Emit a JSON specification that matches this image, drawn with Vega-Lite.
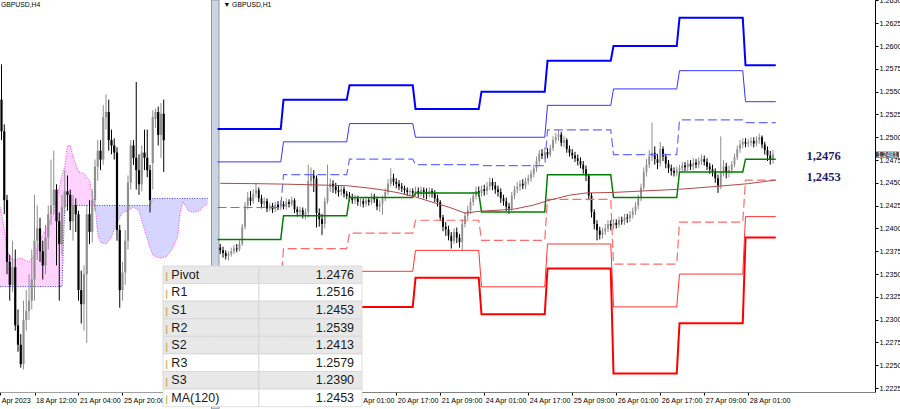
{
  "$schema": "https://vega.github.io/schema/vega-lite/v6.json",
  "width": 875,
  "height": 392,
  "autosize": "none",
  "padding": {"left": 0, "top": 0, "right": 25, "bottom": 17},
  "background": "#ffffff",
  "config": {"view": {"stroke": null}, "axis": {"grid": false}},
  "datasets": {
    "h4": [
      {"j":0,"o":1.2506,"h":1.2526,"l":1.2483,"c":1.2488},
      {"j":1,"o":1.2488,"h":1.2492,"l":1.2441,"c":1.2449},
      {"j":2,"o":1.2449,"h":1.2452,"l":1.2407,"c":1.2414},
      {"j":3,"o":1.2414,"h":1.2418,"l":1.2392,"c":1.2401},
      {"j":4,"o":1.2401,"h":1.2426,"l":1.2397,"c":1.2411},
      {"j":5,"o":1.2411,"h":1.2421,"l":1.2375,"c":1.2378},
      {"j":6,"o":1.2378,"h":1.2387,"l":1.2363,"c":1.2367},
      {"j":7,"o":1.2367,"h":1.2373,"l":1.2354,"c":1.2356},
      {"j":8,"o":1.2356,"h":1.2392,"l":1.2353,"c":1.2381},
      {"j":9,"o":1.2381,"h":1.2398,"l":1.2375,"c":1.2386},
      {"j":10,"o":1.2386,"h":1.2407,"l":1.2381,"c":1.2392},
      {"j":11,"o":1.2392,"h":1.2421,"l":1.2387,"c":1.2404},
      {"j":12,"o":1.2404,"h":1.2452,"l":1.2392,"c":1.2426},
      {"j":13,"o":1.2426,"h":1.2446,"l":1.2415,"c":1.2433},
      {"j":14,"o":1.2433,"h":1.2439,"l":1.2414,"c":1.2420},
      {"j":15,"o":1.2420,"h":1.2426,"l":1.2404,"c":1.2412},
      {"j":16,"o":1.2412,"h":1.2435,"l":1.2407,"c":1.2428},
      {"j":17,"o":1.2428,"h":1.2446,"l":1.2421,"c":1.2441},
      {"j":18,"o":1.2441,"h":1.2472,"l":1.2435,"c":1.2446},
      {"j":19,"o":1.2446,"h":1.2477,"l":1.2441,"c":1.2455},
      {"j":20,"o":1.2455,"h":1.2458,"l":1.2412,"c":1.2437},
      {"j":21,"o":1.2437,"h":1.2442,"l":1.2392,"c":1.2424},
      {"j":22,"o":1.2424,"h":1.2452,"l":1.2418,"c":1.2445},
      {"j":23,"o":1.2445,"h":1.2466,"l":1.2441,"c":1.2454},
      {"j":24,"o":1.2454,"h":1.2463,"l":1.2443,"c":1.2452},
      {"j":25,"o":1.2452,"h":1.2455,"l":1.2432,"c":1.2437},
      {"j":26,"o":1.2437,"h":1.2452,"l":1.2426,"c":1.2446},
      {"j":27,"o":1.2446,"h":1.2450,"l":1.2431,"c":1.2441},
      {"j":28,"o":1.2441,"h":1.2443,"l":1.2392,"c":1.2398},
      {"j":29,"o":1.2398,"h":1.2409,"l":1.2379,"c":1.2390},
      {"j":30,"o":1.2390,"h":1.2412,"l":1.2375,"c":1.2407},
      {"j":31,"o":1.2407,"h":1.2446,"l":1.2368,"c":1.2441},
      {"j":32,"o":1.2441,"h":1.2449,"l":1.2424,"c":1.2431},
      {"j":33,"o":1.2431,"h":1.2455,"l":1.2425,"c":1.2449},
      {"j":34,"o":1.2449,"h":1.2472,"l":1.2443,"c":1.2468},
      {"j":35,"o":1.2468,"h":1.2483,"l":1.2460,"c":1.2477},
      {"j":36,"o":1.2477,"h":1.2483,"l":1.2466,"c":1.2472},
      {"j":37,"o":1.2472,"h":1.2503,"l":1.2469,"c":1.2496},
      {"j":38,"o":1.2496,"h":1.2509,"l":1.2489,"c":1.2499},
      {"j":39,"o":1.2499,"h":1.2506,"l":1.2477,"c":1.2483},
      {"j":40,"o":1.2483,"h":1.2489,"l":1.2475,"c":1.2480},
      {"j":41,"o":1.2480,"h":1.2484,"l":1.2472,"c":1.2476},
      {"j":42,"o":1.2476,"h":1.2479,"l":1.2426,"c":1.2432},
      {"j":43,"o":1.2432,"h":1.2435,"l":1.2388,"c":1.2398},
      {"j":44,"o":1.2398,"h":1.2414,"l":1.2392,"c":1.2408},
      {"j":45,"o":1.2408,"h":1.2432,"l":1.2401,"c":1.2426},
      {"j":46,"o":1.2426,"h":1.2463,"l":1.2421,"c":1.2459},
      {"j":47,"o":1.2459,"h":1.2483,"l":1.2455,"c":1.2480},
      {"j":48,"o":1.2480,"h":1.2483,"l":1.2469,"c":1.2473},
      {"j":49,"o":1.2473,"h":1.2516,"l":1.2455,"c":1.2466},
      {"j":50,"o":1.2466,"h":1.2475,"l":1.2452,"c":1.2458},
      {"j":51,"o":1.2458,"h":1.2480,"l":1.2454,"c":1.2476},
      {"j":52,"o":1.2476,"h":1.2489,"l":1.2466,"c":1.2473},
      {"j":53,"o":1.2473,"h":1.2489,"l":1.2462,"c":1.2466},
      {"j":54,"o":1.2466,"h":1.2469,"l":1.2442,"c":1.2449},
      {"j":55,"o":1.2470,"h":1.2500,"l":1.2455,"c":1.2496},
      {"j":56,"o":1.2495,"h":1.2501,"l":1.2490,"c":1.2499},
      {"j":57,"o":1.2499,"h":1.2502,"l":1.2480,"c":1.2486},
      {"j":58,"o":1.2486,"h":1.2504,"l":1.2473,"c":1.2498},
      {"j":59,"o":1.2498,"h":1.2506,"l":1.2465,"c":1.2483}
    ],
    "cloud": [
      {"j":-0.5,"a":1.2445,"b":1.2400,"k":"up"},
      {"j":1,"a":1.2433,"b":1.2400,"k":"up"},
      {"j":2,"a":1.2420,"b":1.2400,"k":"up"},
      {"j":4,"a":1.2415,"b":1.2400,"k":"up"},
      {"j":7,"a":1.2416,"b":1.2400,"k":"up"},
      {"j":10,"a":1.2414,"b":1.2400,"k":"up"},
      {"j":12,"a":1.2418,"b":1.2400,"k":"up"},
      {"j":14,"a":1.2426,"b":1.2400,"k":"up"},
      {"j":16,"a":1.2432,"b":1.2400,"k":"up"},
      {"j":19,"a":1.2442,"b":1.2400,"k":"up"},
      {"j":22,"a":1.2463,"b":1.2400,"k":"up"},
      {"j":23,"a":1.2468,"b":1.2446,"k":"up"},
      {"j":24,"a":1.2480,"b":1.2446,"k":"up"},
      {"j":25,"a":1.2480,"b":1.2446,"k":"up"},
      {"j":26,"a":1.2474,"b":1.2446,"k":"up"},
      {"j":28,"a":1.2465,"b":1.2446,"k":"up"},
      {"j":30,"a":1.2464,"b":1.2446,"k":"up"},
      {"j":32,"a":1.2460,"b":1.2446,"k":"up"},
      {"j":33,"a":1.2451,"b":1.2446,"k":"up"},
      {"j":34,"a":1.2446,"b":1.2446,"k":"up"},
      {"j":34,"a":1.2446,"b":1.2446,"k":"down"},
      {"j":35,"a":1.2430,"b":1.2446,"k":"down"},
      {"j":36,"a":1.2425,"b":1.2446,"k":"down"},
      {"j":38,"a":1.2424,"b":1.2446,"k":"down"},
      {"j":40,"a":1.2428,"b":1.2446,"k":"down"},
      {"j":42,"a":1.2436,"b":1.2446,"k":"down"},
      {"j":44,"a":1.2442,"b":1.2446,"k":"down"},
      {"j":46,"a":1.2443,"b":1.2446,"k":"down"},
      {"j":48,"a":1.2445,"b":1.2446,"k":"down"},
      {"j":50,"a":1.2443,"b":1.2446,"k":"down"},
      {"j":52,"a":1.2432,"b":1.2446,"k":"down"},
      {"j":54,"a":1.2422,"b":1.2446,"k":"down"},
      {"j":55,"a":1.2418,"b":1.2450,"k":"down"},
      {"j":56,"a":1.2417,"b":1.2450,"k":"down"},
      {"j":58,"a":1.2416,"b":1.2450,"k":"down"},
      {"j":60,"a":1.2417,"b":1.2450,"k":"down"},
      {"j":62,"a":1.2421,"b":1.2450,"k":"down"},
      {"j":64,"a":1.2428,"b":1.2450,"k":"down"},
      {"j":65,"a":1.2442,"b":1.2450,"k":"down"},
      {"j":66,"a":1.2448,"b":1.2450,"k":"down"},
      {"j":68,"a":1.2443,"b":1.2450,"k":"down"},
      {"j":70,"a":1.2442,"b":1.2450,"k":"down"},
      {"j":72,"a":1.2443,"b":1.2450,"k":"down"},
      {"j":74,"a":1.2446,"b":1.2450,"k":"down"},
      {"j":75,"a":1.2447,"b":1.2450,"k":"down"}
    ],
    "h1": [
      {"i":1,"o":1.2379,"h":1.2383,"l":1.2372,"c":1.2376},
      {"i":2,"o":1.2376,"h":1.2380,"l":1.2368,"c":1.2373},
      {"i":3,"o":1.2373,"h":1.2376,"l":1.2366,"c":1.2370},
      {"i":4,"o":1.2370,"h":1.2375,"l":1.2365,"c":1.2372},
      {"i":5,"o":1.2372,"h":1.2379,"l":1.2369,"c":1.2375},
      {"i":6,"o":1.2375,"h":1.2382,"l":1.2372,"c":1.2378},
      {"i":7,"o":1.2378,"h":1.2383,"l":1.2374,"c":1.2377},
      {"i":8,"o":1.2377,"h":1.2387,"l":1.2375,"c":1.2383},
      {"i":9,"o":1.2383,"h":1.2405,"l":1.2381,"c":1.2402},
      {"i":10,"o":1.2402,"h":1.2429,"l":1.2399,"c":1.2425},
      {"i":11,"o":1.2425,"h":1.2440,"l":1.2421,"c":1.2434},
      {"i":12,"o":1.2434,"h":1.2441,"l":1.2425,"c":1.2430},
      {"i":13,"o":1.2430,"h":1.2443,"l":1.2427,"c":1.2438},
      {"i":14,"o":1.2438,"h":1.2450,"l":1.2434,"c":1.2442},
      {"i":15,"o":1.2442,"h":1.2445,"l":1.2429,"c":1.2433},
      {"i":16,"o":1.2433,"h":1.2437,"l":1.2422,"c":1.2427},
      {"i":17,"o":1.2427,"h":1.2434,"l":1.2423,"c":1.2430},
      {"i":18,"o":1.2430,"h":1.2433,"l":1.2418,"c":1.2422},
      {"i":19,"o":1.2422,"h":1.2428,"l":1.2419,"c":1.2425},
      {"i":20,"o":1.2425,"h":1.2428,"l":1.2417,"c":1.2421},
      {"i":21,"o":1.2421,"h":1.2429,"l":1.2418,"c":1.2426},
      {"i":22,"o":1.2426,"h":1.2430,"l":1.2420,"c":1.2423},
      {"i":23,"o":1.2423,"h":1.2431,"l":1.2420,"c":1.2427},
      {"i":24,"o":1.2427,"h":1.2430,"l":1.2421,"c":1.2424},
      {"i":25,"o":1.2424,"h":1.2433,"l":1.2421,"c":1.2429},
      {"i":26,"o":1.2429,"h":1.2432,"l":1.2423,"c":1.2427},
      {"i":27,"o":1.2427,"h":1.2435,"l":1.2424,"c":1.2431},
      {"i":28,"o":1.2431,"h":1.2433,"l":1.2417,"c":1.2421},
      {"i":29,"o":1.2421,"h":1.2424,"l":1.2413,"c":1.2418},
      {"i":30,"o":1.2418,"h":1.2424,"l":1.2414,"c":1.2420},
      {"i":31,"o":1.2420,"h":1.2423,"l":1.2411,"c":1.2415},
      {"i":32,"o":1.2415,"h":1.2422,"l":1.2410,"c":1.2418},
      {"i":33,"o":1.2418,"h":1.2470,"l":1.2412,"c":1.2452},
      {"i":34,"o":1.2452,"h":1.2467,"l":1.2446,"c":1.2458},
      {"i":35,"o":1.2458,"h":1.2464,"l":1.2440,"c":1.2455},
      {"i":36,"o":1.2455,"h":1.2458,"l":1.2401,"c":1.2417},
      {"i":37,"o":1.2417,"h":1.2422,"l":1.2402,"c":1.2410},
      {"i":38,"o":1.2410,"h":1.2416,"l":1.2393,"c":1.2405},
      {"i":39,"o":1.2405,"h":1.2434,"l":1.2400,"c":1.2430},
      {"i":40,"o":1.2430,"h":1.2470,"l":1.2427,"c":1.2445},
      {"i":41,"o":1.2445,"h":1.2455,"l":1.2440,"c":1.2449},
      {"i":42,"o":1.2449,"h":1.2453,"l":1.2439,"c":1.2446},
      {"i":43,"o":1.2446,"h":1.2450,"l":1.2438,"c":1.2442},
      {"i":44,"o":1.2442,"h":1.2447,"l":1.2435,"c":1.2440},
      {"i":45,"o":1.2440,"h":1.2447,"l":1.2436,"c":1.2443},
      {"i":46,"o":1.2443,"h":1.2446,"l":1.2434,"c":1.2438},
      {"i":47,"o":1.2438,"h":1.2441,"l":1.2432,"c":1.2436},
      {"i":48,"o":1.2436,"h":1.2440,"l":1.2430,"c":1.2434},
      {"i":49,"o":1.2434,"h":1.2438,"l":1.2427,"c":1.2431},
      {"i":50,"o":1.2431,"h":1.2437,"l":1.2427,"c":1.2433},
      {"i":51,"o":1.2433,"h":1.2436,"l":1.2425,"c":1.2429},
      {"i":52,"o":1.2429,"h":1.2434,"l":1.2424,"c":1.2430},
      {"i":53,"o":1.2430,"h":1.2433,"l":1.2423,"c":1.2427},
      {"i":54,"o":1.2427,"h":1.2435,"l":1.2424,"c":1.2431},
      {"i":55,"o":1.2431,"h":1.2434,"l":1.2425,"c":1.2429},
      {"i":56,"o":1.2429,"h":1.2439,"l":1.2426,"c":1.2435},
      {"i":57,"o":1.2435,"h":1.2438,"l":1.2428,"c":1.2432},
      {"i":58,"o":1.2432,"h":1.2435,"l":1.2420,"c":1.2424},
      {"i":59,"o":1.2424,"h":1.2431,"l":1.2418,"c":1.2427},
      {"i":60,"o":1.2427,"h":1.2436,"l":1.2415,"c":1.2433},
      {"i":61,"o":1.2433,"h":1.2444,"l":1.2430,"c":1.2440},
      {"i":62,"o":1.2440,"h":1.2454,"l":1.2437,"c":1.2449},
      {"i":63,"o":1.2449,"h":1.2466,"l":1.2446,"c":1.2455},
      {"i":64,"o":1.2455,"h":1.2460,"l":1.2447,"c":1.2451},
      {"i":65,"o":1.2451,"h":1.2455,"l":1.2444,"c":1.2449},
      {"i":66,"o":1.2449,"h":1.2453,"l":1.2442,"c":1.2446},
      {"i":67,"o":1.2446,"h":1.2450,"l":1.2440,"c":1.2444},
      {"i":68,"o":1.2444,"h":1.2447,"l":1.2438,"c":1.2442},
      {"i":69,"o":1.2442,"h":1.2445,"l":1.2436,"c":1.2440},
      {"i":70,"o":1.2440,"h":1.2444,"l":1.2436,"c":1.2441},
      {"i":71,"o":1.2441,"h":1.2444,"l":1.2435,"c":1.2439},
      {"i":72,"o":1.2439,"h":1.2446,"l":1.2435,"c":1.2441},
      {"i":73,"o":1.2441,"h":1.2445,"l":1.2434,"c":1.2439},
      {"i":74,"o":1.2439,"h":1.2446,"l":1.2435,"c":1.2442},
      {"i":75,"o":1.2442,"h":1.2445,"l":1.2433,"c":1.2440},
      {"i":76,"o":1.2440,"h":1.2444,"l":1.2432,"c":1.2438},
      {"i":77,"o":1.2438,"h":1.2445,"l":1.2434,"c":1.2441},
      {"i":78,"o":1.2441,"h":1.2444,"l":1.2434,"c":1.2439},
      {"i":79,"o":1.2439,"h":1.2442,"l":1.2429,"c":1.2433},
      {"i":80,"o":1.2433,"h":1.2437,"l":1.2424,"c":1.2429},
      {"i":81,"o":1.2429,"h":1.2431,"l":1.2408,"c":1.2412},
      {"i":82,"o":1.2412,"h":1.2415,"l":1.2397,"c":1.2402},
      {"i":83,"o":1.2402,"h":1.2407,"l":1.2392,"c":1.2399},
      {"i":84,"o":1.2399,"h":1.2403,"l":1.2387,"c":1.2392},
      {"i":85,"o":1.2392,"h":1.2396,"l":1.2378,"c":1.2386},
      {"i":86,"o":1.2386,"h":1.2400,"l":1.2383,"c":1.2396},
      {"i":87,"o":1.2396,"h":1.2401,"l":1.2384,"c":1.2390},
      {"i":88,"o":1.2390,"h":1.2394,"l":1.2379,"c":1.2385},
      {"i":89,"o":1.2385,"h":1.2410,"l":1.2375,"c":1.2405},
      {"i":90,"o":1.2405,"h":1.2418,"l":1.2401,"c":1.2414},
      {"i":91,"o":1.2414,"h":1.2425,"l":1.2410,"c":1.2420},
      {"i":92,"o":1.2420,"h":1.2433,"l":1.2416,"c":1.2429},
      {"i":93,"o":1.2429,"h":1.2440,"l":1.2425,"c":1.2436},
      {"i":94,"o":1.2436,"h":1.2446,"l":1.2432,"c":1.2441},
      {"i":95,"o":1.2441,"h":1.2446,"l":1.2435,"c":1.2439},
      {"i":96,"o":1.2439,"h":1.2447,"l":1.2435,"c":1.2443},
      {"i":97,"o":1.2443,"h":1.2448,"l":1.2436,"c":1.2441},
      {"i":98,"o":1.2441,"h":1.2451,"l":1.2437,"c":1.2446},
      {"i":99,"o":1.2446,"h":1.2456,"l":1.2442,"c":1.2451},
      {"i":100,"o":1.2451,"h":1.2455,"l":1.2442,"c":1.2447},
      {"i":101,"o":1.2447,"h":1.2451,"l":1.2438,"c":1.2443},
      {"i":102,"o":1.2443,"h":1.2447,"l":1.2435,"c":1.2440},
      {"i":103,"o":1.2440,"h":1.2444,"l":1.2428,"c":1.2433},
      {"i":104,"o":1.2433,"h":1.2437,"l":1.2425,"c":1.2430},
      {"i":105,"o":1.2430,"h":1.2434,"l":1.2419,"c":1.2424},
      {"i":106,"o":1.2424,"h":1.2428,"l":1.2416,"c":1.2422},
      {"i":107,"o":1.2422,"h":1.2440,"l":1.2419,"c":1.2436},
      {"i":108,"o":1.2436,"h":1.2447,"l":1.2432,"c":1.2443},
      {"i":109,"o":1.2443,"h":1.2451,"l":1.2439,"c":1.2446},
      {"i":110,"o":1.2446,"h":1.2453,"l":1.2441,"c":1.2449},
      {"i":111,"o":1.2449,"h":1.2454,"l":1.2443,"c":1.2447},
      {"i":112,"o":1.2447,"h":1.2456,"l":1.2443,"c":1.2452},
      {"i":113,"o":1.2452,"h":1.2459,"l":1.2448,"c":1.2455},
      {"i":114,"o":1.2455,"h":1.2464,"l":1.2451,"c":1.2460},
      {"i":115,"o":1.2460,"h":1.2470,"l":1.2456,"c":1.2466},
      {"i":116,"o":1.2466,"h":1.2479,"l":1.2462,"c":1.2474},
      {"i":117,"o":1.2474,"h":1.2486,"l":1.2470,"c":1.2482},
      {"i":118,"o":1.2482,"h":1.2487,"l":1.2476,"c":1.2480},
      {"i":119,"o":1.2480,"h":1.2489,"l":1.2476,"c":1.2484},
      {"i":120,"o":1.2484,"h":1.2488,"l":1.2477,"c":1.2481},
      {"i":121,"o":1.2481,"h":1.2492,"l":1.2478,"c":1.2488},
      {"i":122,"o":1.2488,"h":1.2501,"l":1.2485,"c":1.2497},
      {"i":123,"o":1.2497,"h":1.2505,"l":1.2493,"c":1.2500},
      {"i":124,"o":1.2500,"h":1.2508,"l":1.2496,"c":1.2503},
      {"i":125,"o":1.2503,"h":1.2506,"l":1.2490,"c":1.2494},
      {"i":126,"o":1.2494,"h":1.2501,"l":1.2489,"c":1.2497},
      {"i":127,"o":1.2497,"h":1.2499,"l":1.2483,"c":1.2487},
      {"i":128,"o":1.2487,"h":1.2491,"l":1.2479,"c":1.2483},
      {"i":129,"o":1.2483,"h":1.2487,"l":1.2476,"c":1.2480},
      {"i":130,"o":1.2480,"h":1.2484,"l":1.2473,"c":1.2477},
      {"i":131,"o":1.2477,"h":1.2481,"l":1.2469,"c":1.2474},
      {"i":132,"o":1.2474,"h":1.2478,"l":1.2466,"c":1.2470},
      {"i":133,"o":1.2470,"h":1.2474,"l":1.2460,"c":1.2465},
      {"i":134,"o":1.2465,"h":1.2469,"l":1.2452,"c":1.2458},
      {"i":135,"o":1.2458,"h":1.2460,"l":1.2431,"c":1.2436},
      {"i":136,"o":1.2436,"h":1.2439,"l":1.2412,"c":1.2418},
      {"i":137,"o":1.2418,"h":1.2421,"l":1.2399,"c":1.2405},
      {"i":138,"o":1.2405,"h":1.2409,"l":1.2387,"c":1.2398},
      {"i":139,"o":1.2398,"h":1.2402,"l":1.2388,"c":1.2393},
      {"i":140,"o":1.2393,"h":1.2401,"l":1.2389,"c":1.2397},
      {"i":141,"o":1.2397,"h":1.2405,"l":1.2393,"c":1.2400},
      {"i":142,"o":1.2400,"h":1.2409,"l":1.2396,"c":1.2405},
      {"i":143,"o":1.2405,"h":1.2409,"l":1.2398,"c":1.2403},
      {"i":144,"o":1.2403,"h":1.2410,"l":1.2399,"c":1.2406},
      {"i":145,"o":1.2406,"h":1.2410,"l":1.2400,"c":1.2404},
      {"i":146,"o":1.2404,"h":1.2413,"l":1.2401,"c":1.2409},
      {"i":147,"o":1.2409,"h":1.2413,"l":1.2404,"c":1.2408},
      {"i":148,"o":1.2408,"h":1.2416,"l":1.2404,"c":1.2412},
      {"i":149,"o":1.2412,"h":1.2416,"l":1.2406,"c":1.2411},
      {"i":150,"o":1.2411,"h":1.2419,"l":1.2407,"c":1.2415},
      {"i":151,"o":1.2415,"h":1.2423,"l":1.2411,"c":1.2419},
      {"i":152,"o":1.2419,"h":1.2429,"l":1.2415,"c":1.2425},
      {"i":153,"o":1.2425,"h":1.2437,"l":1.2421,"c":1.2433},
      {"i":154,"o":1.2433,"h":1.2449,"l":1.2430,"c":1.2445},
      {"i":155,"o":1.2445,"h":1.2467,"l":1.2442,"c":1.2462},
      {"i":156,"o":1.2462,"h":1.2476,"l":1.2457,"c":1.2470},
      {"i":157,"o":1.2470,"h":1.2486,"l":1.2466,"c":1.2479},
      {"i":158,"o":1.2479,"h":1.2516,"l":1.2474,"c":1.2483},
      {"i":159,"o":1.2483,"h":1.2490,"l":1.2470,"c":1.2476},
      {"i":160,"o":1.2476,"h":1.2482,"l":1.2465,"c":1.2472},
      {"i":161,"o":1.2472,"h":1.2495,"l":1.2468,"c":1.2487},
      {"i":162,"o":1.2487,"h":1.2490,"l":1.2474,"c":1.2479},
      {"i":163,"o":1.2479,"h":1.2482,"l":1.2466,"c":1.2471},
      {"i":164,"o":1.2471,"h":1.2475,"l":1.2461,"c":1.2466},
      {"i":165,"o":1.2466,"h":1.2470,"l":1.2458,"c":1.2463},
      {"i":166,"o":1.2463,"h":1.2467,"l":1.2457,"c":1.2461},
      {"i":167,"o":1.2461,"h":1.2468,"l":1.2457,"c":1.2464},
      {"i":168,"o":1.2464,"h":1.2470,"l":1.2460,"c":1.2466},
      {"i":169,"o":1.2466,"h":1.2473,"l":1.2462,"c":1.2469},
      {"i":170,"o":1.2469,"h":1.2473,"l":1.2463,"c":1.2467},
      {"i":171,"o":1.2467,"h":1.2475,"l":1.2463,"c":1.2471},
      {"i":172,"o":1.2471,"h":1.2475,"l":1.2464,"c":1.2468},
      {"i":173,"o":1.2468,"h":1.2477,"l":1.2464,"c":1.2472},
      {"i":174,"o":1.2472,"h":1.2476,"l":1.2466,"c":1.2470},
      {"i":175,"o":1.2470,"h":1.2478,"l":1.2466,"c":1.2474},
      {"i":176,"o":1.2474,"h":1.2481,"l":1.2470,"c":1.2476},
      {"i":177,"o":1.2476,"h":1.2480,"l":1.2469,"c":1.2473},
      {"i":178,"o":1.2473,"h":1.2477,"l":1.2464,"c":1.2468},
      {"i":179,"o":1.2468,"h":1.2472,"l":1.2460,"c":1.2465},
      {"i":180,"o":1.2465,"h":1.2470,"l":1.2457,"c":1.2463},
      {"i":181,"o":1.2463,"h":1.2466,"l":1.2450,"c":1.2455},
      {"i":182,"o":1.2455,"h":1.2459,"l":1.2439,"c":1.2447},
      {"i":183,"o":1.2447,"h":1.2501,"l":1.2443,"c":1.2462},
      {"i":184,"o":1.2462,"h":1.2475,"l":1.2457,"c":1.2468},
      {"i":185,"o":1.2468,"h":1.2472,"l":1.2455,"c":1.2461},
      {"i":186,"o":1.2461,"h":1.2469,"l":1.2456,"c":1.2464},
      {"i":187,"o":1.2464,"h":1.2474,"l":1.2460,"c":1.2470},
      {"i":188,"o":1.2470,"h":1.2482,"l":1.2467,"c":1.2478},
      {"i":189,"o":1.2478,"h":1.2491,"l":1.2475,"c":1.2487},
      {"i":190,"o":1.2487,"h":1.2497,"l":1.2483,"c":1.2492},
      {"i":191,"o":1.2492,"h":1.2499,"l":1.2488,"c":1.2495},
      {"i":192,"o":1.2495,"h":1.2499,"l":1.2489,"c":1.2493},
      {"i":193,"o":1.2493,"h":1.2498,"l":1.2489,"c":1.2494},
      {"i":194,"o":1.2494,"h":1.2500,"l":1.2490,"c":1.2496},
      {"i":195,"o":1.2496,"h":1.2500,"l":1.2489,"c":1.2493},
      {"i":196,"o":1.2493,"h":1.2501,"l":1.2490,"c":1.2497},
      {"i":197,"o":1.2497,"h":1.2504,"l":1.2493,"c":1.2500},
      {"i":198,"o":1.2500,"h":1.2502,"l":1.2488,"c":1.2492},
      {"i":199,"o":1.2492,"h":1.2495,"l":1.2481,"c":1.2486},
      {"i":200,"o":1.2486,"h":1.2490,"l":1.2474,"c":1.2480},
      {"i":201,"o":1.2480,"h":1.2485,"l":1.2470,"c":1.2476},
      {"i":202,"o":1.2476,"h":1.2486,"l":1.2471,"c":1.2481}
    ],
    "piv": [
      {"d":"18 Apr","s":0,"e":23,"R3":1.2509,"R2":1.2473,"R1":1.2423,"P":1.2388,"S1":1.2338,"S2":1.2303,"S3":1.2253},
      {"d":"19 Apr","s":24,"e":47,"R3":1.2541,"R2":1.2495,"R1":1.2459,"P":1.2414,"S1":1.2378,"S2":1.2333,"S3":1.2297},
      {"d":"20 Apr","s":48,"e":71,"R3":1.2557,"R2":1.2515,"R1":1.2476,"P":1.2434,"S1":1.2395,"S2":1.2353,"S3":1.2314},
      {"d":"21 Apr","s":72,"e":95,"R3":1.2531,"R2":1.2500,"R1":1.2470,"P":1.2439,"S1":1.2409,"S2":1.2376,"S3":1.2346},
      {"d":"24 Apr","s":96,"e":119,"R3":1.2550,"R2":1.2500,"R1":1.2469,"P":1.2418,"S1":1.2387,"S2":1.2336,"S3":1.2306},
      {"d":"25 Apr","s":120,"e":143,"R3":1.2584,"R2":1.2535,"R1":1.2508,"P":1.2459,"S1":1.2432,"S2":1.2383,"S3":1.2356},
      {"d":"26 Apr","s":144,"e":167,"R3":1.2600,"R2":1.2553,"R1":1.2481,"P":1.2434,"S1":1.2361,"S2":1.2314,"S3":1.2241},
      {"d":"27 Apr","s":168,"e":191,"R3":1.2631,"R2":1.2573,"R1":1.2519,"P":1.2462,"S1":1.2407,"S2":1.2350,"S3":1.2296},
      {"d":"28 Apr","s":192,"e":203,"R3":1.2579,"R2":1.2539,"R1":1.2516,"P":1.2476,"S1":1.2453,"S2":1.2413,"S3":1.2390}
    ],
    "ma": [
      {"i":1,"p":1.24495},{"i":12,"p":1.24492},{"i":23,"p":1.24487},{"i":35,"p":1.24478},
      {"i":47,"p":1.24469},{"i":56,"p":1.2444},{"i":60,"p":1.24422},{"i":66,"p":1.2439},
      {"i":72,"p":1.24345},{"i":78,"p":1.2429},{"i":84,"p":1.24235},{"i":90,"p":1.24169},
      {"i":96,"p":1.24191},{"i":102,"p":1.242},{"i":108,"p":1.24213},{"i":115,"p":1.24257},
      {"i":121,"p":1.24312},{"i":128,"p":1.24365},{"i":134,"p":1.24389},{"i":144,"p":1.24395},
      {"i":154,"p":1.2441},{"i":168,"p":1.2443},{"i":181,"p":1.2446},{"i":193,"p":1.24491},
      {"i":203,"p":1.24531}
    ],
    "tags": [{"t":"1,2476","p":1.2476},{"t":"1,2453","p":1.2453}],
    "last": [{"p":1.2481}],
    "tbl": [
      {"name":"Pivot","v":1.2476},{"name":"R1","v":1.2516},{"name":"S1","v":1.2453},
      {"name":"R2","v":1.2539},{"name":"S2","v":1.2413},{"name":"R3","v":1.2579},
      {"name":"S3","v":1.239},{"name":"MA(120)","v":1.2453}
    ]
  },
  "layer": [
    {
      "data": {"name": "cloud"},
      "transform": [{"filter": "datum.k == 'up'"}],
      "mark": {"type": "area", "color": "#ff33ff", "opacity": 0.22},
      "encoding": {
        "x": {"field": "j", "type": "quantitative", "title": null,
              "scale": {"domain": [-0.55, 75.1], "range": [0, 208], "nice": false, "zero": false},
              "axis": {"orient": "bottom", "values": [-0.5, 12, 28, 44],
                       "labelExpr": "datum.value < 0 ? 'Apr 2023' : datum.value == 12 ? '18 Apr 12:00' : datum.value == 28 ? '21 Apr 04:00' : '25 Apr 20:00'",
                       "labelAlign": "left", "labelBaseline": "top", "labelPadding": 1, "labelOffset": 1,
                       "labelFlush": false, "labelOverlap": false, "labelBound": false, "labelAngle": 0,
                       "tickSize": 3, "tickColor": "#000000", "domainColor": "#a0a0a0",
                       "labelFont": "Liberation Sans", "labelFontSize": 7.2, "labelColor": "#000000"}},
        "y": {"field": "a", "type": "quantitative", "title": null,
              "scale": {"domain": [1.23402, 1.25625], "nice": false, "zero": false}, "axis": null},
        "y2": {"field": "b"}
      }
    },
    {
      "data": {"name": "cloud"},
      "transform": [{"filter": "datum.k == 'down'"}],
      "mark": {"type": "area", "color": "#4040ff", "opacity": 0.22},
      "encoding": {
        "x": {"field": "j", "type": "quantitative", "axis": null,
              "scale": {"domain": [-0.55, 75.1], "range": [0, 208], "nice": false, "zero": false}},
        "y": {"field": "a", "type": "quantitative", "axis": null,
              "scale": {"domain": [1.23402, 1.25625], "nice": false, "zero": false}},
        "y2": {"field": "b"}
      }
    },
    {
      "data": {"name": "cloud"},
      "mark": {"type": "line", "color": "#ff33ff", "strokeWidth": 1, "strokeDash": [1, 1.5]},
      "encoding": {
        "x": {"field": "j", "type": "quantitative", "axis": null,
              "scale": {"domain": [-0.55, 75.1], "range": [0, 208], "nice": false, "zero": false}},
        "y": {"field": "a", "type": "quantitative", "axis": null,
              "scale": {"domain": [1.23402, 1.25625], "nice": false, "zero": false}},
        "order": {"field": "j", "type": "quantitative"}
      }
    },
    {
      "data": {"name": "cloud"},
      "mark": {"type": "line", "color": "#3030ff", "strokeWidth": 1, "strokeDash": [1, 1.5]},
      "encoding": {
        "x": {"field": "j", "type": "quantitative", "axis": null,
              "scale": {"domain": [-0.55, 75.1], "range": [0, 208], "nice": false, "zero": false}},
        "y": {"field": "b", "type": "quantitative", "axis": null,
              "scale": {"domain": [1.23402, 1.25625], "nice": false, "zero": false}},
        "order": {"field": "j", "type": "quantitative"}
      }
    },
    {
      "data": {"name": "h4"},
      "mark": {"type": "rule", "strokeWidth": 1},
      "encoding": {
        "x": {"field": "j", "type": "quantitative", "axis": null,
              "scale": {"domain": [-0.55, 75.1], "range": [0, 208], "nice": false, "zero": false}},
        "y": {"field": "l", "type": "quantitative", "axis": null,
              "scale": {"domain": [1.23402, 1.25625], "nice": false, "zero": false}},
        "y2": {"field": "h"},
        "color": {"condition": {"test": "datum.c >= datum.o", "value": "#8f8f8f"}, "value": "#000000"}
      }
    },
    {
      "data": {"name": "h4"},
      "mark": {"type": "rule", "strokeWidth": 2.2},
      "encoding": {
        "x": {"field": "j", "type": "quantitative", "axis": null,
              "scale": {"domain": [-0.55, 75.1], "range": [0, 208], "nice": false, "zero": false}},
        "y": {"field": "o", "type": "quantitative", "axis": null,
              "scale": {"domain": [1.23402, 1.25625], "nice": false, "zero": false}},
        "y2": {"field": "c"},
        "color": {"condition": {"test": "datum.c >= datum.o", "value": "#8f8f8f"}, "value": "#000000"}
      }
    },
    {
      "data": {"values": [{}]},
      "mark": {"type": "text", "text": "GBPUSD,H4", "align": "left", "baseline": "top", "dx": 1, "dy": 2,
               "font": "Liberation Sans", "fontSize": 6.8, "color": "#000000"},
      "encoding": {
        "x": {"datum": -0.55, "type": "quantitative", "axis": null,
              "scale": {"domain": [-0.55, 75.1], "range": [0, 208], "nice": false, "zero": false}},
        "y": {"datum": 1.25625, "type": "quantitative", "axis": null,
              "scale": {"domain": [1.23402, 1.25625], "nice": false, "zero": false}}
      }
    },
    {
      "data": {"values": [{}]},
      "mark": {"type": "rect", "fill": "#ccd6e3", "stroke": "#8e98a4", "strokeWidth": 1},
      "encoding": {
        "x": {"datum": 76.37, "type": "quantitative", "axis": null,
              "scale": {"domain": [-0.55, 75.1], "range": [0, 208], "nice": false, "zero": false}},
        "x2": {"datum": 79.1},
        "y": {"datum": 1.25625, "type": "quantitative", "axis": null,
              "scale": {"domain": [1.23402, 1.25625], "nice": false, "zero": false}},
        "y2": {"datum": 1.23306}
      }
    },
    {
      "data": {"name": "h1"},
      "mark": {"type": "rule", "strokeWidth": 1},
      "encoding": {
        "x": {"field": "i", "type": "quantitative", "title": null,
              "scale": {"domain": [0, 239.09], "range": [217.5, 875], "nice": false, "zero": false},
              "axis": {"orient": "bottom", "values": [49, 65, 81, 97, 113, 129, 145, 161, 177, 193],
                       "labelExpr": "['20 Apr 01:00','20 Apr 17:00','21 Apr 09:00','24 Apr 01:00','24 Apr 17:00','25 Apr 09:00','26 Apr 01:00','26 Apr 17:00','27 Apr 09:00','28 Apr 01:00'][round((datum.value - 49) / 16)]",
                       "labelAlign": "left", "labelBaseline": "top", "labelPadding": 1, "labelOffset": 1,
                       "labelFlush": false, "labelOverlap": false, "labelBound": false, "labelAngle": 0,
                       "tickSize": 3, "tickColor": "#000000", "domainColor": "#808080",
                       "labelFont": "Liberation Sans", "labelFontSize": 7.2, "labelColor": "#000000"}},
        "y": {"field": "l", "type": "quantitative", "title": null,
              "scale": {"domain": [1.22207, 1.26505], "nice": false, "zero": false},
              "axis": {"orient": "right",
                       "values": [1.2225, 1.225, 1.2275, 1.23, 1.2325, 1.235, 1.2375, 1.24, 1.2425, 1.245, 1.2475, 1.25, 1.2525, 1.255, 1.2575, 1.26, 1.2625, 1.265],
                       "format": ".4f", "tickSize": 3, "labelPadding": 1, "labelBaseline": "middle",
                       "labelFlush": false, "labelOverlap": false, "labelBound": false,
                       "tickColor": "#000000", "domainColor": "#000000",
                       "labelFont": "Liberation Sans", "labelFontSize": 7.2, "labelColor": "#000000"}},
        "y2": {"field": "h"},
        "color": {"condition": {"test": "datum.c >= datum.o", "value": "#8f8f8f"}, "value": "#000000"}
      }
    },
    {
      "data": {"name": "h1"},
      "mark": {"type": "rule", "strokeWidth": 1.8},
      "encoding": {
        "x": {"field": "i", "type": "quantitative", "axis": null,
              "scale": {"domain": [0, 239.09], "range": [217.5, 875], "nice": false, "zero": false}},
        "y": {"field": "o", "type": "quantitative", "axis": null,
              "scale": {"domain": [1.22207, 1.26505], "nice": false, "zero": false}},
        "y2": {"field": "c"},
        "color": {"condition": {"test": "datum.c >= datum.o", "value": "#8f8f8f"}, "value": "#000000"}
      }
    },
    {
      "data": {"name": "piv"},
      "transform": [
        {"fold": ["R3", "R2", "R1", "P", "S1", "S2", "S3"], "as": ["lvl", "p"]},
        {"fold": ["s", "e"], "as": ["edge", "i"]},
        {"filter": "datum.lvl == 'R3' || datum.lvl == 'S3'"}
      ],
      "mark": {"type": "line", "strokeWidth": 2},
      "encoding": {
        "x": {"field": "i", "type": "quantitative", "axis": null,
              "scale": {"domain": [0, 239.09], "range": [217.5, 875], "nice": false, "zero": false}},
        "y": {"field": "p", "type": "quantitative", "axis": null,
              "scale": {"domain": [1.22207, 1.26505], "nice": false, "zero": false}},
        "order": {"field": "i", "type": "quantitative"},
        "color": {"field": "lvl", "type": "nominal", "legend": null,
                  "scale": {"domain": ["R3", "S3"], "range": ["#0000ff", "#ff0000"]}}
      }
    },
    {
      "data": {"name": "piv"},
      "transform": [
        {"fold": ["R3", "R2", "R1", "P", "S1", "S2", "S3"], "as": ["lvl", "p"]},
        {"fold": ["s", "e"], "as": ["edge", "i"]},
        {"filter": "datum.lvl == 'R2' || datum.lvl == 'S2'"}
      ],
      "mark": {"type": "line", "strokeWidth": 1},
      "encoding": {
        "x": {"field": "i", "type": "quantitative", "axis": null,
              "scale": {"domain": [0, 239.09], "range": [217.5, 875], "nice": false, "zero": false}},
        "y": {"field": "p", "type": "quantitative", "axis": null,
              "scale": {"domain": [1.22207, 1.26505], "nice": false, "zero": false}},
        "order": {"field": "i", "type": "quantitative"},
        "color": {"field": "lvl", "type": "nominal", "legend": null,
                  "scale": {"domain": ["R2", "S2"], "range": ["#3535ff", "#ff3535"]}}
      }
    },
    {
      "data": {"name": "piv"},
      "transform": [
        {"fold": ["R3", "R2", "R1", "P", "S1", "S2", "S3"], "as": ["lvl", "p"]},
        {"fold": ["s", "e"], "as": ["edge", "i"]},
        {"filter": "datum.lvl == 'R1' || datum.lvl == 'S1'"}
      ],
      "mark": {"type": "line", "strokeWidth": 1.2, "strokeDash": [9, 4]},
      "encoding": {
        "x": {"field": "i", "type": "quantitative", "axis": null,
              "scale": {"domain": [0, 239.09], "range": [217.5, 875], "nice": false, "zero": false}},
        "y": {"field": "p", "type": "quantitative", "axis": null,
              "scale": {"domain": [1.22207, 1.26505], "nice": false, "zero": false}},
        "order": {"field": "i", "type": "quantitative"},
        "color": {"field": "lvl", "type": "nominal", "legend": null,
                  "scale": {"domain": ["R1", "S1"], "range": ["#6a6aff", "#ff6a6a"]}}
      }
    },
    {
      "data": {"name": "piv"},
      "transform": [
        {"fold": ["R3", "R2", "R1", "P", "S1", "S2", "S3"], "as": ["lvl", "p"]},
        {"fold": ["s", "e"], "as": ["edge", "i"]},
        {"filter": "datum.lvl == 'P'"}
      ],
      "mark": {"type": "line", "strokeWidth": 1.5, "color": "#008000"},
      "encoding": {
        "x": {"field": "i", "type": "quantitative", "axis": null,
              "scale": {"domain": [0, 239.09], "range": [217.5, 875], "nice": false, "zero": false}},
        "y": {"field": "p", "type": "quantitative", "axis": null,
              "scale": {"domain": [1.22207, 1.26505], "nice": false, "zero": false}},
        "order": {"field": "i", "type": "quantitative"}
      }
    },
    {
      "data": {"name": "ma"},
      "mark": {"type": "line", "color": "#b04848", "strokeWidth": 1},
      "encoding": {
        "x": {"field": "i", "type": "quantitative", "axis": null,
              "scale": {"domain": [0, 239.09], "range": [217.5, 875], "nice": false, "zero": false}},
        "y": {"field": "p", "type": "quantitative", "axis": null,
              "scale": {"domain": [1.22207, 1.26505], "nice": false, "zero": false}},
        "order": {"field": "i", "type": "quantitative"}
      }
    },
    {
      "data": {"name": "tags"},
      "mark": {"type": "text", "font": "Liberation Serif", "fontWeight": "bold", "fontSize": 12.5,
               "color": "#1c1c6b", "align": "center", "baseline": "alphabetic", "dy": 1},
      "encoding": {
        "x": {"datum": 220.4, "type": "quantitative", "axis": null,
              "scale": {"domain": [0, 239.09], "range": [217.5, 875], "nice": false, "zero": false}},
        "y": {"field": "p", "type": "quantitative", "axis": null,
              "scale": {"domain": [1.22207, 1.26505], "nice": false, "zero": false}},
        "text": {"field": "t"}
      }
    },
    {
      "data": {"name": "last"},
      "mark": {"type": "tick", "orient": "horizontal", "color": "#000000", "size": 23, "thickness": 6},
      "encoding": {
        "x": {"datum": 243.6, "type": "quantitative", "axis": null,
              "scale": {"domain": [0, 239.09], "range": [217.5, 875], "nice": false, "zero": false}},
        "y": {"field": "p", "type": "quantitative", "axis": null,
              "scale": {"domain": [1.22207, 1.26505], "nice": false, "zero": false}}
      }
    },
    {
      "data": {"name": "last"},
      "mark": {"type": "text", "color": "#ffffff", "font": "Liberation Sans", "fontSize": 6.5,
               "align": "center", "baseline": "middle"},
      "encoding": {
        "x": {"datum": 243.6, "type": "quantitative", "axis": null,
              "scale": {"domain": [0, 239.09], "range": [217.5, 875], "nice": false, "zero": false}},
        "y": {"field": "p", "type": "quantitative", "axis": null,
              "scale": {"domain": [1.22207, 1.26505], "nice": false, "zero": false}},
        "text": {"field": "p", "format": ".4f"}
      }
    },
    {
      "data": {"values": [{}]},
      "mark": {"type": "text", "text": "▼ GBPUSD,H1", "align": "left", "baseline": "top", "dx": 6, "dy": 2,
               "font": "Liberation Sans", "fontSize": 6.8, "color": "#000000"},
      "encoding": {
        "x": {"datum": 0, "type": "quantitative", "axis": null,
              "scale": {"domain": [0, 239.09], "range": [217.5, 875], "nice": false, "zero": false}},
        "y": {"datum": 1.26505, "type": "quantitative", "axis": null,
              "scale": {"domain": [1.22207, 1.26505], "nice": false, "zero": false}}
      }
    },
    {
      "data": {"name": "tbl"},
      "mark": {"type": "rect", "stroke": "#d6d6d6", "strokeWidth": 0.8},
      "encoding": {
        "x": {"datum": 0, "type": "quantitative", "axis": null,
              "scale": {"domain": [0, 100], "range": [163, 362], "nice": false, "zero": false}},
        "x2": {"datum": 48.2},
        "y": {"field": "name", "type": "nominal", "axis": null,
              "scale": {"type": "band", "domain": ["Pivot", "R1", "S1", "R2", "S2", "R3", "S3", "MA(120)"],
                        "range": [266, 406.7], "paddingInner": 0, "paddingOuter": 0}},
        "fill": {"condition": {"test": "indexof(['R1','R3','MA(120)'], datum.name) >= 0", "value": "#ffffff"}, "value": "#e8e8e8"}
      }
    },
    {
      "data": {"name": "tbl"},
      "mark": {"type": "rect", "stroke": "#d6d6d6", "strokeWidth": 0.8},
      "encoding": {
        "x": {"datum": 48.2, "type": "quantitative", "axis": null,
              "scale": {"domain": [0, 100], "range": [163, 362], "nice": false, "zero": false}},
        "x2": {"datum": 100},
        "y": {"field": "name", "type": "nominal", "axis": null,
              "scale": {"type": "band", "domain": ["Pivot", "R1", "S1", "R2", "S2", "R3", "S3", "MA(120)"],
                        "range": [266, 406.7], "paddingInner": 0, "paddingOuter": 0}},
        "fill": {"condition": {"test": "indexof(['R1','R3','MA(120)'], datum.name) >= 0", "value": "#ffffff"}, "value": "#e8e8e8"}
      }
    },
    {
      "data": {"name": "tbl"},
      "mark": {"type": "tick", "orient": "vertical", "color": "#c8a03c", "thickness": 1.5, "size": 9, "yOffset": 2},
      "encoding": {
        "x": {"datum": 1.8, "type": "quantitative", "axis": null,
              "scale": {"domain": [0, 100], "range": [163, 362], "nice": false, "zero": false}},
        "y": {"field": "name", "type": "nominal", "axis": null,
              "scale": {"type": "band", "domain": ["Pivot", "R1", "S1", "R2", "S2", "R3", "S3", "MA(120)"],
                        "range": [266, 406.7], "paddingInner": 0, "paddingOuter": 0}}
      }
    },
    {
      "data": {"name": "tbl"},
      "mark": {"type": "text", "align": "left", "baseline": "middle", "font": "Liberation Sans", "fontSize": 12.5, "color": "#1a1a1a"},
      "encoding": {
        "x": {"datum": 4.2, "type": "quantitative", "axis": null,
              "scale": {"domain": [0, 100], "range": [163, 362], "nice": false, "zero": false}},
        "y": {"field": "name", "type": "nominal", "axis": null,
              "scale": {"type": "band", "domain": ["Pivot", "R1", "S1", "R2", "S2", "R3", "S3", "MA(120)"],
                        "range": [266, 406.7], "paddingInner": 0, "paddingOuter": 0}},
        "text": {"field": "name"}
      }
    },
    {
      "data": {"name": "tbl"},
      "mark": {"type": "text", "align": "right", "baseline": "middle", "font": "Liberation Sans", "fontSize": 12.5, "color": "#1a1a1a"},
      "encoding": {
        "x": {"datum": 96, "type": "quantitative", "axis": null,
              "scale": {"domain": [0, 100], "range": [163, 362], "nice": false, "zero": false}},
        "y": {"field": "name", "type": "nominal", "axis": null,
              "scale": {"type": "band", "domain": ["Pivot", "R1", "S1", "R2", "S2", "R3", "S3", "MA(120)"],
                        "range": [266, 406.7], "paddingInner": 0, "paddingOuter": 0}},
        "text": {"field": "v", "format": ".4f"}
      }
    }
  ],
  "resolve": {
    "scale": {"x": "independent", "y": "independent", "color": "independent"},
    "axis": {"x": "independent", "y": "independent"}
  }
}
